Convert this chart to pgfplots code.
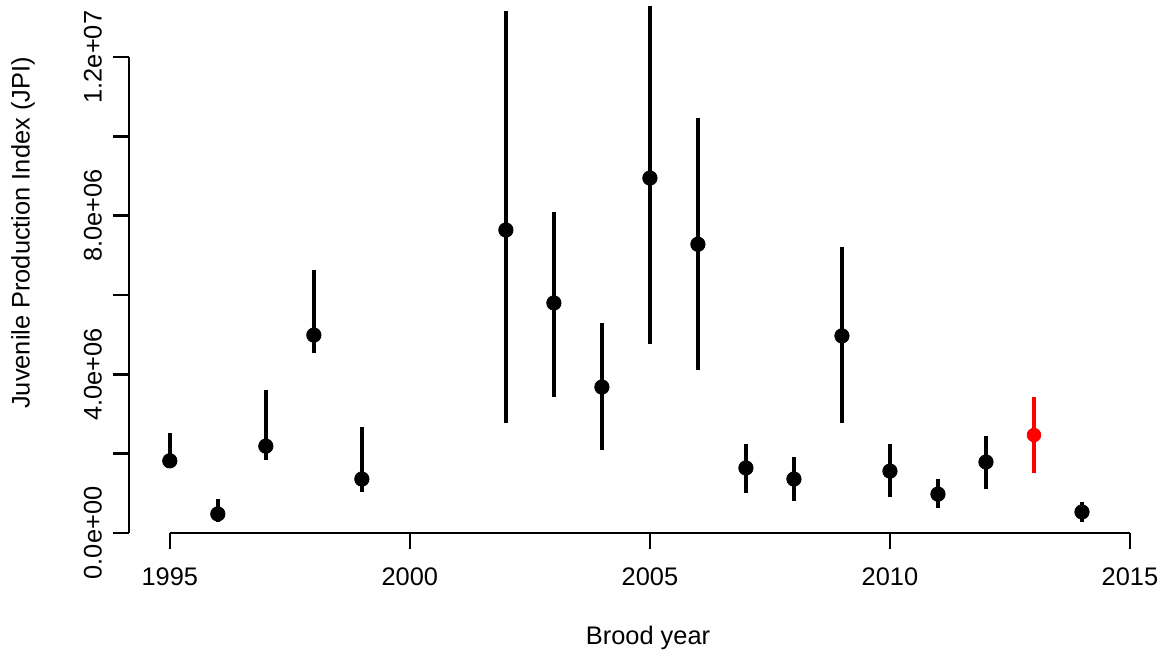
\documentclass[border=0pt]{standalone}
\usepackage{pgfplots}
\pgfplotsset{compat=1.18}
\usepackage{pgfplotstable}
\usepackage{fontspec}
\setmainfont{Liberation Sans}

\pgfplotstableread{
x    y     lo    hi
1995 1.82  1.64  2.52
1996 0.48  0.28  0.86
1997 2.19  1.84  3.60
1998 4.99  4.54  6.63
1999 1.36  1.03  2.67
2002 7.64  2.77  13.16
2003 5.80  3.43  8.09
2004 3.68  2.09  5.29
2005 8.95  4.76  13.28
2006 7.28  4.11  10.46
2007 1.64  1.01  2.24
2008 1.36  0.81  1.92
2009 4.97  2.77  7.21
2010 1.56  0.91  2.24
2011 0.98  0.63  1.36
2012 1.79  1.11  2.45
2014 0.53  0.28  0.78
}\blackdata

\pgfplotstableread{
x    y     lo    hi
2013 2.47  1.51  3.43
}\reddata

\begin{document}
\begin{tikzpicture}[font=\fontsize{12.7}{15}\selectfont]
\begin{axis}[
  at={(64.5pt,62.5pt)}, anchor=south west,
  scale only axis, width=512.5pt, height=266.5pt,
  xmin=1994.15, xmax=2015.5, ymin=0, ymax=13.44,
  clip=false,
  axis x line*=bottom, axis y line*=left,
  axis line style={draw=none},
  tick align=outside, major tick length=8pt,
  tick style={line width=1.3pt, black},
  xtick={1995,2000,2005,2010,2015},
  xticklabels={1995,2000,2005,2010,2015},
  ytick={0,2,4,6,8,10,12},
  yticklabels={0.0e+00,,4.0e+06,,8.0e+06,,1.2e+07},
  yticklabel style={rotate=90, anchor=south, yshift=2pt},
  xticklabel style={yshift=-6pt},
  /pgf/number format/assume math mode=true,
]
\draw[line width=1.3pt] (axis cs:1994.15,0) -- (axis cs:1994.15,12);
\draw[line width=1.3pt] (axis cs:1995,0) -- (axis cs:2015,0);

\addplot[only marks, black, mark=*, mark size=3.6pt,
  error bars/.cd, y dir=both, y explicit, error mark=none,
  error bar style={line width=2.2pt, black}]
  table[x=x, y=y, y error plus expr=\thisrow{hi}-\thisrow{y},
        y error minus expr=\thisrow{y}-\thisrow{lo}] {\blackdata};

\addplot[only marks, red, mark=*, mark size=3.4pt,
  error bars/.cd, y dir=both, y explicit, error mark=none,
  error bar style={line width=2.2pt, red}]
  table[x=x, y=y, y error plus expr=\thisrow{hi}-\thisrow{y},
        y error minus expr=\thisrow{y}-\thisrow{lo}] {\reddata};
\end{axis}
\node[rotate=90] at (11.5pt,212.5pt) {Juvenile Production Index (JPI)};
\node at (324pt,10pt) {Brood year};
\pgfresetboundingbox
\path (0,0) rectangle (582pt,329pt);
\end{tikzpicture}
\end{document}
